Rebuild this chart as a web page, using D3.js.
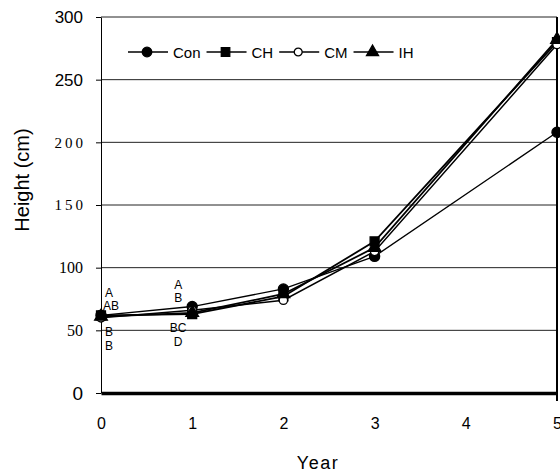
<!DOCTYPE html>
<html>
<head>
<meta charset="utf-8">
<script src="https://cdn.jsdelivr.net/npm/d3@7"></script>
<style>
  body { margin: 0; background: #fff; }
  svg { display: block; }
  text { fill: #000; }
</style>
</head>
<body>
<svg id="chart" width="560" height="473"></svg>
<script>
// Tree height by year for four treatments
const years = [0, 1, 2, 3, 5];
const seriesNames = ["Con", "CH", "CM", "IH"];
const conHeight = [62, 69, 83, 109, 208];
const chHeight  = [62, 63, 77, 121, 280];
const cmHeight  = [60, 66, 74, 113, 278];
const ihHeight  = [61, 64, 79, 116, 282];
const yTicks = [0, 50, 100, 150, 200, 250, 300];
const xTicks = [0, 1, 2, 3, 4, 5];
// Mean-separation letters shown above / below the points
const lettersAbove = [{ year: 0, labels: ["A", "AB"] }, { year: 1, labels: ["A", "B"] }];
const lettersBelow = [{ year: 0, labels: ["B", "B"] }, { year: 1, labels: ["BC", "D"] }];

const seriesValues = [conHeight, chHeight, cmHeight, ihHeight];
const symbols = {
  Con: { type: d3.symbolCircle, size: 80, fill: "#000" },
  CH:  { type: d3.symbolSquare, size: 80, fill: "#000" },
  CM:  { type: d3.symbolCircle, size: 55, fill: "#fff" },
  IH:  { type: d3.symbolTriangle, size: 70, fill: "#000" }
};
const lineWidth = { Con: 1.3, CH: 1.8, CM: 1.5, IH: 1.8 };

const svg = d3.select("#chart");
const x = d3.scaleLinear().domain([0, 5]).range([101, 557]);
const y = d3.scaleLinear().domain([0, 300]).range([393, 17]);

const sans = "'Liberation Sans', Arial, sans-serif";
const serif = "'Liberation Serif', 'Times New Roman', serif";

// horizontal grid lines
svg.append("g").selectAll("line")
  .data(yTicks.filter(t => t > 0))
  .join("line")
  .attr("x1", x(0)).attr("x2", x(5))
  .attr("y1", d => y(d)).attr("y2", d => y(d))
  .attr("stroke", "#222").attr("stroke-width", 1);

// y axis
const yAxis = svg.append("g")
  .attr("transform", `translate(${x(0)},0)`)
  .call(d3.axisLeft(y).tickValues(yTicks).tickSize(5).tickPadding(13).tickSizeOuter(0));
yAxis.select(".domain").attr("stroke", "#000").attr("stroke-width", 1);
yAxis.selectAll(".tick line").attr("stroke", "#000");
yAxis.selectAll(".tick text")
  .style("font-family", d => (d === 0 || d >= 250) ? sans : serif)
  .style("font-size", d => d === 0 ? "19px" : d >= 250 ? "17px" : d >= 150 ? "15px" : "16px")
  .style("letter-spacing", d => (d === 150 || d === 200) ? "3px" : "0px")
  .attr("dx", d => (d === 150 || d === 200) ? 3 : 0);

// right frame edge
svg.append("line")
  .attr("x1", x(5)).attr("x2", x(5))
  .attr("y1", y(300)).attr("y2", y(0) + 8)
  .attr("stroke", "#000").attr("stroke-width", 2);

// x axis
const xAxis = svg.append("g")
  .attr("transform", `translate(0,${y(0)})`)
  .call(d3.axisBottom(x).tickValues(xTicks).tickFormat(d3.format("d")).tickSize(0).tickPadding(25));
xAxis.select(".domain").attr("stroke", "#000").attr("stroke-width", 3.5);
xAxis.selectAll(".tick text")
  .style("font-family", sans)
  .style("font-size", "16px")
  .style("font-weight", "300");

// axis titles
svg.append("text")
  .attr("x", 318).attr("y", 469)
  .attr("text-anchor", "middle")
  .style("font-family", sans).style("font-size", "18px").style("letter-spacing", "1.5px")
  .text("Year");
svg.append("text")
  .attr("transform", "translate(29,180) rotate(-90)")
  .attr("text-anchor", "middle")
  .style("font-family", sans).style("font-size", "20px")
  .text("Height (cm)");

// series lines
const line = d3.line().x(d => x(d.year)).y(d => y(d.value));
const series = seriesNames.map((name, i) => ({
  name,
  points: years.map((yr, j) => ({ year: yr, value: seriesValues[i][j] }))
}));

svg.append("g").selectAll("path")
  .data(series)
  .join("path")
  .attr("d", d => line(d.points))
  .attr("fill", "none")
  .attr("stroke", "#000")
  .attr("stroke-width", d => lineWidth[d.name]);

// markers
const markerGroups = svg.append("g").selectAll("g")
  .data(series)
  .join("g");
markerGroups.selectAll("path")
  .data(d => d.points.map(p => ({ ...p, name: d.name })))
  .join("path")
  .attr("transform", d => `translate(${x(d.year)},${y(d.value)})`)
  .attr("d", d => d3.symbol().type(symbols[d.name].type).size(symbols[d.name].size)())
  .attr("fill", d => symbols[d.name].fill)
  .attr("stroke", "#000")
  .attr("stroke-width", 1.3);

// significance letters
function yearExtent(yr) {
  const j = years.indexOf(yr);
  return d3.extent(seriesValues, v => v[j]);
}
const letterStyle = sel => sel
  .style("font-family", sans).style("font-size", "12px");
const letterX = yr => yr === 0 ? x(0) + 2 : x(yr) - 14;
const letterAnchor = yr => yr === 0 ? "start" : "middle";

const aboveG = svg.append("g");
lettersAbove.forEach(grp => {
  const top = y(yearExtent(grp.year)[1]);
  grp.labels.slice().reverse().forEach((lab, k) => {
    aboveG.append("text")
      .attr("x", letterX(grp.year) + (grp.year === 0 && lab.length === 1 ? 2 : 0))
      .attr("y", top - 5 - k * 13)
      .attr("text-anchor", letterAnchor(grp.year))
      .call(letterStyle)
      .text(lab);
  });
});
const belowG = svg.append("g");
lettersBelow.forEach(grp => {
  const bottom = y(yearExtent(grp.year)[0]);
  grp.labels.forEach((lab, k) => {
    belowG.append("text")
      .attr("x", letterX(grp.year) + (grp.year === 0 ? 2 : 0))
      .attr("y", bottom + 18 + k * 14)
      .attr("text-anchor", letterAnchor(grp.year))
      .call(letterStyle)
      .text(lab);
  });
});

// legend
const legend = svg.append("g").attr("transform", "translate(128,52)");
let cursor = 0;
seriesNames.forEach(name => {
  const g = legend.append("g").attr("transform", `translate(${cursor},0)`);
  g.append("line").attr("x1", 0).attr("x2", 40).attr("y1", 0).attr("y2", 0)
    .attr("stroke", "#000").attr("stroke-width", 1.5);
  g.append("path")
    .attr("transform", "translate(19,0)")
    .attr("d", d3.symbol().type(symbols[name].type).size(symbols[name].size * 0.9)())
    .attr("fill", symbols[name].fill).attr("stroke", "#000").attr("stroke-width", 1.3);
  const t = g.append("text")
    .attr("x", 45).attr("y", 5.5)
    .style("font-family", sans).style("font-size", "15px")
    .text(name);
  cursor += 45 + t.node().getComputedTextLength() + 6;
});
</script>
</body>
</html>
